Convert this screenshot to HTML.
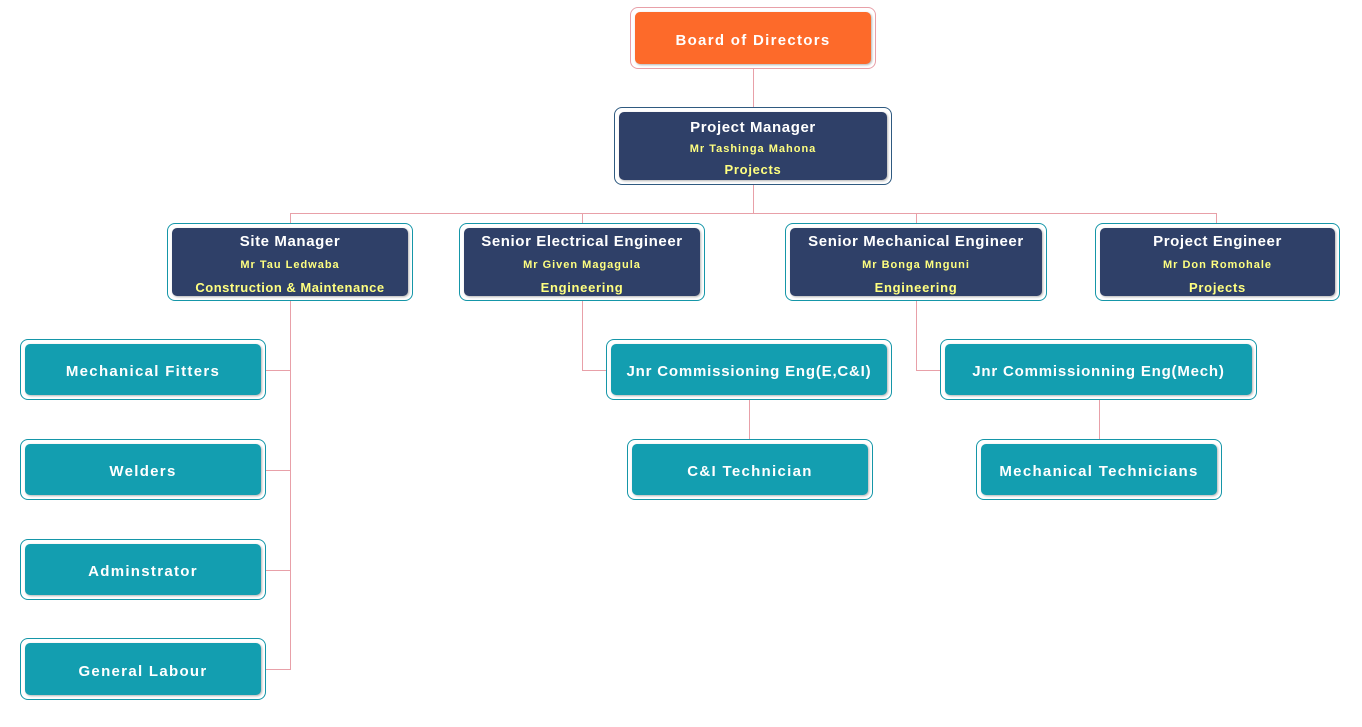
<!DOCTYPE html>
<html><head><style>
body{margin:0;width:1362px;height:727px;background:#fff;position:relative;overflow:hidden;font-family:"Liberation Sans",Arial,sans-serif;}
.o{position:absolute;box-sizing:border-box;border:1px solid #1596a8;border-radius:8px;background:#fff;}
.i{position:absolute;left:4px;top:4px;right:4px;bottom:4px;border-radius:5px;color:#fff;font-weight:bold;text-align:center;display:flex;flex-direction:column;justify-content:center;align-items:center;letter-spacing:1.3px;box-shadow:1px 1px 2px rgba(0,0,0,0.3);padding-top:4px;box-sizing:border-box;}
.n .i{background:#2f4068;padding-top:6px;}
.n{border-color:#2f5a80;}
.t .i{background:#139eb0;font-size:15px;}
.h{font-size:15px;line-height:22px;letter-spacing:0.6px;}
.s{font-size:11px;color:#ffff80;line-height:24px;letter-spacing:1px;}
.d{font-size:13px;color:#ffff80;line-height:22px;letter-spacing:0.7px;}
.l{position:absolute;background:#e8a0a8;}
</style></head><body>
<div class="l" style="left:753px;top:69px;width:1px;height:38px"></div>
<div class="l" style="left:753px;top:185px;width:1px;height:28px"></div>
<div class="l" style="left:290px;top:213px;width:927px;height:1px"></div>
<div class="l" style="left:290px;top:213px;width:1px;height:10px"></div>
<div class="l" style="left:582px;top:213px;width:1px;height:10px"></div>
<div class="l" style="left:916px;top:213px;width:1px;height:10px"></div>
<div class="l" style="left:1216px;top:213px;width:1px;height:10px"></div>
<div class="l" style="left:290px;top:301px;width:1px;height:369px"></div>
<div class="l" style="left:266px;top:370px;width:24px;height:1px"></div>
<div class="l" style="left:266px;top:470px;width:24px;height:1px"></div>
<div class="l" style="left:266px;top:570px;width:24px;height:1px"></div>
<div class="l" style="left:266px;top:669px;width:24px;height:1px"></div>
<div class="l" style="left:582px;top:301px;width:1px;height:69px"></div>
<div class="l" style="left:582px;top:370px;width:24px;height:1px"></div>
<div class="l" style="left:916px;top:301px;width:1px;height:69px"></div>
<div class="l" style="left:916px;top:370px;width:24px;height:1px"></div>
<div class="l" style="left:749px;top:400px;width:1px;height:39px"></div>
<div class="l" style="left:1099px;top:400px;width:1px;height:39px"></div>

<div class="o" style="left:630px;top:7px;width:246px;height:62px;border-color:#e8a0a8"><div class="i" style="background:#fd6a2a;font-size:15px">Board of Directors</div></div>

<div class="o n" style="left:614px;top:107px;width:278px;height:78px"><div class="i"><div class="h">Project Manager</div><div class="s" style="line-height:20px">Mr Tashinga Mahona</div><div class="d">Projects</div></div></div>

<div class="o n" style="left:167px;top:223px;width:246px;height:78px;border-color:#1596a8"><div class="i"><div class="h">Site Manager</div><div class="s">Mr Tau Ledwaba</div><div class="d" style="letter-spacing:0.5px">Construction &amp; Maintenance</div></div></div>
<div class="o n" style="left:459px;top:223px;width:246px;height:78px;border-color:#1596a8"><div class="i"><div class="h">Senior Electrical Engineer</div><div class="s">Mr Given Magagula</div><div class="d">Engineering</div></div></div>
<div class="o n" style="left:785px;top:223px;width:262px;height:78px;border-color:#1596a8"><div class="i"><div class="h">Senior Mechanical Engineer</div><div class="s">Mr Bonga Mnguni</div><div class="d">Engineering</div></div></div>
<div class="o n" style="left:1095px;top:223px;width:245px;height:78px;border-color:#1596a8"><div class="i"><div class="h">Project Engineer</div><div class="s">Mr Don Romohale</div><div class="d">Projects</div></div></div>

<div class="o t" style="left:20px;top:339px;width:246px;height:61px"><div class="i">Mechanical Fitters</div></div>
<div class="o t" style="left:20px;top:439px;width:246px;height:61px"><div class="i">Welders</div></div>
<div class="o t" style="left:20px;top:539px;width:246px;height:61px"><div class="i">Adminstrator</div></div>
<div class="o t" style="left:20px;top:638px;width:246px;height:62px"><div class="i">General Labour</div></div>
<div class="o t" style="left:606px;top:339px;width:286px;height:61px"><div class="i" style="letter-spacing:0.8px">Jnr Commissioning Eng(E,C&amp;I)</div></div>
<div class="o t" style="left:940px;top:339px;width:317px;height:61px"><div class="i" style="letter-spacing:0.8px">Jnr Commissionning Eng(Mech)</div></div>
<div class="o t" style="left:627px;top:439px;width:246px;height:61px"><div class="i">C&amp;I Technician</div></div>
<div class="o t" style="left:976px;top:439px;width:246px;height:61px"><div class="i">Mechanical Technicians</div></div>
</body></html>
